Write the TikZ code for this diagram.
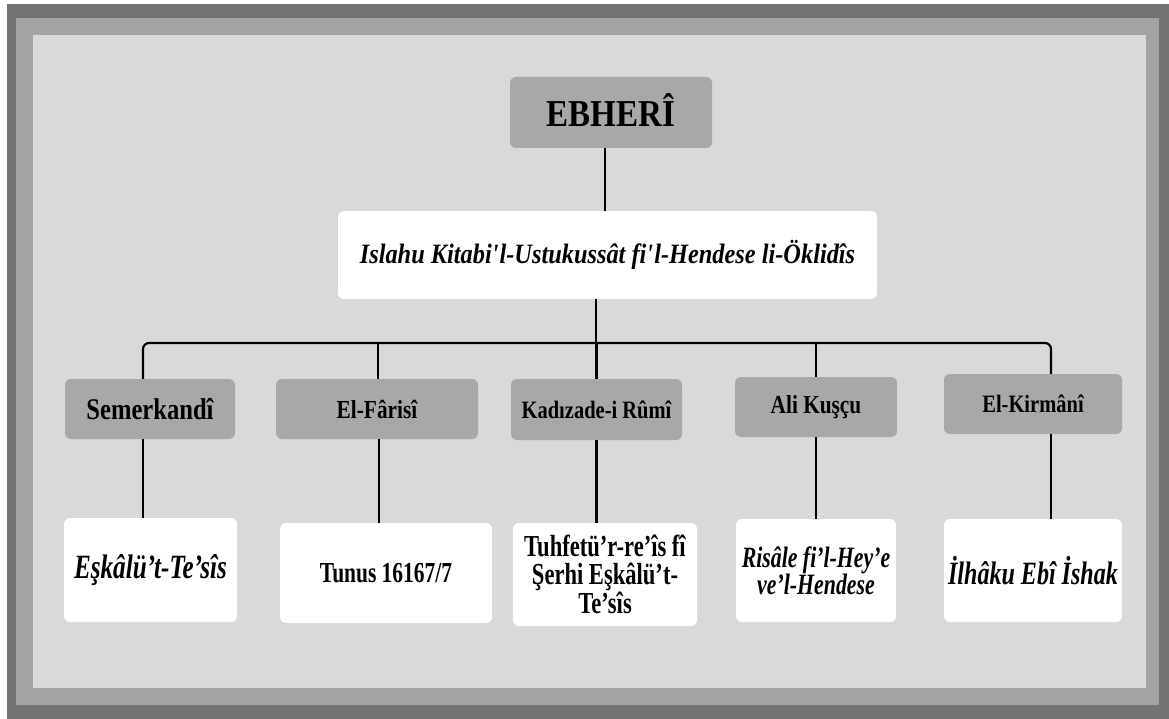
\documentclass[tikz,border=0pt]{standalone}
\usepackage{fontspec}
\setmainfont[FakeStretch=0.82]{Liberation Serif}
\newfontfamily\bigfam[FakeStretch=0.87]{Liberation Serif}
\newfontfamily\midfam[FakeStretch=0.82]{Liberation Serif}
\newfontfamily\narfam[FakeStretch=0.74]{Liberation Serif}
\begin{document}
\begin{tikzpicture}[x=1pt,y=-1pt,
  gbox/.style={fill=boxgray,rounded corners=6pt,inner sep=0pt,align=center},
  wbox/.style={fill=white,rounded corners=6pt,inner sep=0pt,align=center},
  conn/.style={line width=2.2pt,black}]
\definecolor{framedark}{HTML}{737373}
\definecolor{framemid}{HTML}{A3A3A3}
\definecolor{inner}{HTML}{D9D9D9}
\definecolor{boxgray}{HTML}{A8A8A8}
\useasboundingbox (0,0) rectangle (1169,719);
\fill[white] (0,0) rectangle (1169,719);
\fill[framedark] (7,4) rectangle (1169,719);
\fill[framemid] (16,18) rectangle (1159,705);
\fill[inner] (33,35) rectangle (1146,688);

\node[gbox,minimum width=202pt,minimum height=71pt,font={\bigfam\bfseries\fontsize{38}{40}\selectfont}] (ebheri) at (611,112.5) {\raisebox{4pt}{EBHERÎ}};
\node[wbox,minimum width=539pt,minimum height=88pt,font={\bigfam\bfseries\itshape\fontsize{28}{30}\selectfont}] (title) at (607.5,255) {Islahu Kitabi\textquotesingle l-Ustukussât fi\textquotesingle l-Hendese li-Öklidîs};

\node[gbox,minimum width=170pt,minimum height=60pt,font={\midfam\bfseries\fontsize{30}{32}\selectfont}] (semer) at (150,409) {Semerkandî};
\node[gbox,minimum width=202pt,minimum height=60pt,font={\midfam\bfseries\fontsize{26}{28}\selectfont}] (farisi) at (377,409) {El-Fârisî};
\node[gbox,minimum width=171pt,minimum height=61pt,font={\midfam\bfseries\fontsize{25}{27}\selectfont}] (kadi) at (596.5,409.5) {Kadızade-i Rûmî};
\node[gbox,minimum width=162pt,minimum height=60pt,font={\midfam\bfseries\fontsize{26}{28}\selectfont}] (ali) at (816,407) {Ali Kuşçu};
\node[gbox,minimum width=178pt,minimum height=60pt,font={\midfam\bfseries\fontsize{25}{27}\selectfont}] (kirmani) at (1033,404) {El-Kirmânî};

\node[wbox,minimum width=173pt,minimum height=104pt,font={\narfam\bfseries\itshape\fontsize{34}{36}\selectfont}] (eskalu) at (150.5,570) {\raisebox{3pt}{Eşkâlü’t-Te’sîs}};
\node[wbox,minimum width=212pt,minimum height=100pt,font={\narfam\bfseries\fontsize{29}{31}\selectfont}] (tunus) at (386,573) {Tunus 16167/7};
\node[wbox,minimum width=184pt,minimum height=103pt,font={\narfam\bfseries\fontsize{30.5}{27.5}\selectfont}] (tuhfe) at (605,574.5) {Tuhfetü’r-re’îs fî\\Şerhi Eşkâlü’t-\\Te’sîs};
\node[wbox,minimum width=160pt,minimum height=103pt,font={\narfam\bfseries\itshape\fontsize{29.5}{27}\selectfont}] (risale) at (816,570.5) {Risâle fi’l-Hey’e\\ve’l-Hendese};
\node[wbox,minimum width=178pt,minimum height=103pt,font={\narfam\bfseries\itshape\fontsize{32.5}{34}\selectfont}] (ilhaku) at (1033,570.5) {İlhâku Ebî İshak};

\coordinate (bus) at (596,343);
\draw[conn] ([xshift=-6pt]ebheri.south) -- ([xshift=-6pt]ebheri.south |- title.north);
\draw[conn] ([xshift=-11.5pt]title.south) -- (bus);
\draw[conn,rounded corners=6pt] ([xshift=-7pt]semer.north) |- (bus) -| ([xshift=18pt]kirmani.north);
\draw[conn] ([xshift=1pt]farisi.north) -- ([xshift=1pt]farisi.north |- bus);
\draw[conn] (kadi.north) -- (kadi.north |- bus);
\draw[conn] (ali.north) -- (ali.north |- bus);

\draw[conn] ([xshift=-7pt]semer.south) -- ([xshift=-7pt]semer.south |- eskalu.north);
\draw[conn] ([xshift=2pt]farisi.south) -- ([xshift=2pt]farisi.south |- tunus.north);
\draw[conn] (kadi.south) -- (kadi.south |- tuhfe.north);
\draw[conn] (ali.south) -- (ali.south |- risale.north);
\draw[conn] ([xshift=18pt]kirmani.south) -- ([xshift=18pt]kirmani.south |- ilhaku.north);
\end{tikzpicture}
\end{document}
